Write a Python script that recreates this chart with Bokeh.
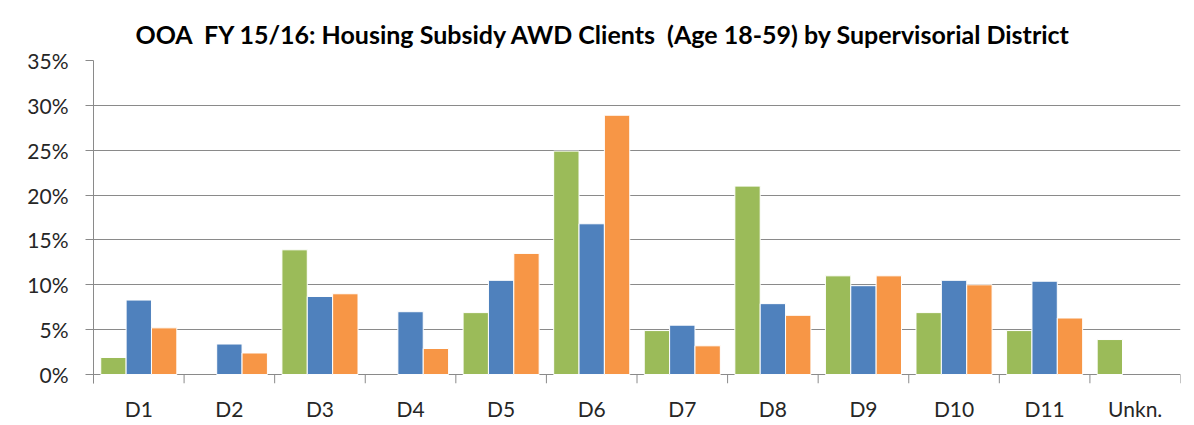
from bokeh.plotting import figure
from bokeh.models import (ColumnDataSource, Range1d, LinearAxis,
                          FixedTicker, NumeralTickFormatter, Title)
from bokeh.transform import dodge
from bokeh.embed import file_html
from bokeh.resources import INLINE

nan = float("nan")

districts = ["D1", "D2", "D3", "D4", "D5", "D6", "D7", "D8", "D9", "D10", "D11", "Unkn."]
series_green = [0.019, nan, 0.139, nan, 0.069, 0.249, 0.049, 0.210, 0.110, 0.069, 0.049, 0.039]
series_blue = [0.083, 0.034, 0.087, 0.070, 0.105, 0.168, 0.055, 0.079, 0.099, 0.105, 0.104, nan]
series_orange = [0.052, 0.024, 0.090, 0.029, 0.135, 0.289, 0.032, 0.066, 0.110, 0.100, 0.063, nan]
y_ticks = [0.0, 0.05, 0.10, 0.15, 0.20, 0.25, 0.30, 0.35]
title_text = "OOA\u00a0 FY 15/16: Housing Subsidy AWD Clients\u00a0 (Age 18-59) by Supervisorial District"

GREEN, BLUE, ORANGE = "#9BBB59", "#4F81BD", "#F79646"
GRID = "#8a8a8a"
FONT = "Lato"
TICK_DEPTH = 0.01  # category-boundary tick length below the axis, in y units

n = len(districts)
centers = [i + 0.5 for i in range(n)]
bounds = list(range(n + 1))
source = ColumnDataSource(dict(x=centers, district=districts, green=series_green,
                               blue=series_blue, orange=series_orange))
bsource = ColumnDataSource(dict(x=bounds, y0=[0.0] * len(bounds),
                                y1=[-TICK_DEPTH] * len(bounds)))

p = figure(frame_width=1087, frame_height=323, output_backend="svg", toolbar_location=None,
           x_range=Range1d(0, n), y_range=Range1d(-TICK_DEPTH, 0.35),
           x_axis_location=None, y_axis_location="left",
           min_border_left=93, min_border_right=14, min_border_top=60, min_border_bottom=42)
p.outline_line_color = None
p.background_fill_color = "white"
p.border_fill_color = "white"

# title
t = Title(text=title_text, align="left", offset=42, text_font=FONT, text_font_style="bold",
          text_font_size="25px", text_color="#000000", standoff=24)
p.add_layout(t, "above")

# y axis
ya = p.yaxis[0]
ya.ticker = FixedTicker(ticks=y_ticks)
ya.formatter = NumeralTickFormatter(format="0%")
ya.major_tick_out = 8
ya.major_tick_in = 0
ya.minor_tick_line_color = None
ya.axis_line_color = GRID
ya.major_tick_line_color = GRID
ya.major_label_standoff = 17
ya.major_label_text_font = FONT
ya.major_label_text_font_size = "21px"
ya.major_label_text_color = "#262626"

p.ygrid.ticker = FixedTicker(ticks=y_ticks)
p.ygrid.grid_line_color = GRID
p.xgrid.grid_line_color = None

# category labels below
label_axis = LinearAxis(ticker=FixedTicker(ticks=centers),
                        major_label_overrides={c: d for c, d in zip(centers, districts)},
                        axis_line_color=None, major_tick_line_color=None,
                        minor_tick_line_color=None,
                        major_tick_out=0, major_tick_in=0,
                        major_label_standoff=12,
                        major_label_text_font=FONT,
                        major_label_text_font_size="21px",
                        major_label_text_color="#262626")
p.add_layout(label_axis, "below")

# ticks between categories
p.segment(x0="x", y0="y0", x1="x", y1="y1", source=bsource, line_color=GRID, line_width=1)

W = 0.28
p.vbar(x=dodge("x", -W), top="green", width=W, source=source,
       fill_color=GREEN, line_color="white", line_width=1)
p.vbar(x=dodge("x", 0), top="blue", width=W, source=source,
       fill_color=BLUE, line_color="white", line_width=1)
p.vbar(x=dodge("x", W), top="orange", width=W, source=source,
       fill_color=ORANGE, line_color="white", line_width=1)

open("out.html", "w").write(file_html(p, INLINE))
